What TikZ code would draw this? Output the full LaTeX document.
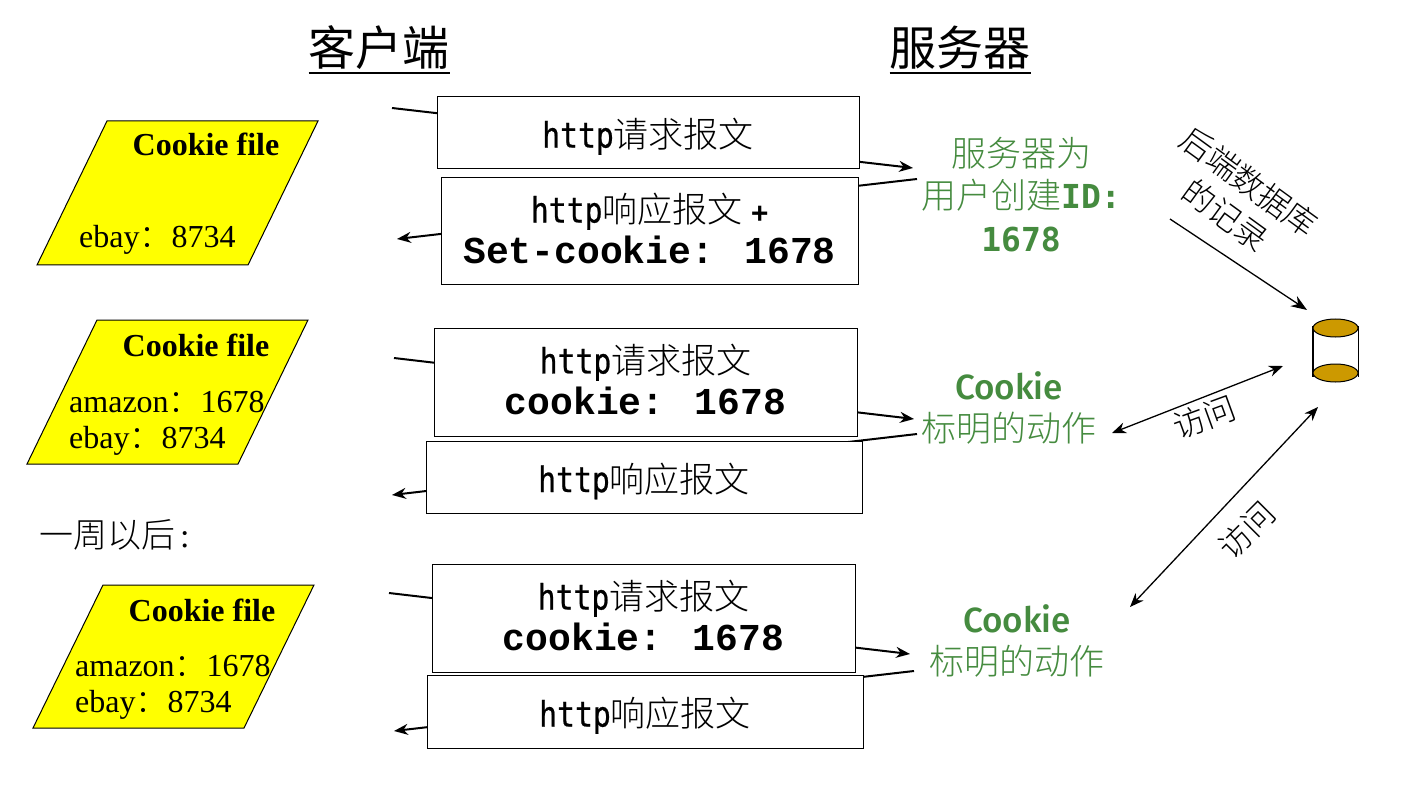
\documentclass[tikz,border=0pt]{standalone}
\usepackage{fontspec}
\usetikzlibrary{arrows.meta,shapes.geometric}
\setmainfont{Liberation Serif}
\newfontfamily\cjklight{Noto Sans CJK SC Light}
\newfontfamily\cjkreg{Noto Sans CJK SC}
\newfontfamily\httpf{DejaVu Sans Mono}
\newfontfamily\httpn{DejaVu Sans Mono}[FakeStretch=0.85,FakeBold=0.6]
\newfontfamily\courb{Liberation Mono}
\newfontfamily\comic{Fira Sans Medium}
\newcommand{\zw}[1]{{\cjklight #1}}
\newcommand{\hp}{{\httpn http}}
\newcommand{\dn}[1]{\raisebox{-4pt}[\height][\depth]{#1}}
\newcommand{\up}[1]{\raisebox{2.5pt}[\height][\depth]{#1}}
\newcommand{\codeline}[1]{{\courb\bfseries\fontsize{38}{43}\selectfont #1}}
\newcommand{\hd}[1]{\setbox0\hbox{#1}\rlap{\rule[-9pt]{\wd0}{2pt}}\box0}
\definecolor{greentxt}{HTML}{458B3F}
\definecolor{cylgold}{HTML}{CC9900}
\definecolor{fileyellow}{HTML}{FFFF00}
\tikzset{
  msgbox/.style={draw=black,fill=white,line width=1pt,inner sep=0pt,align=center,font=\fontsize{35}{43}\selectfont},
  msgline/.style={line width=2pt,-{Stealth[length=14pt,width=11pt]}},
  thinarrow/.style={line width=1.3pt,-{Stealth[length=16pt,width=12pt]}},
  bothwayarrow/.style={line width=1.3pt,{Stealth[length=14pt,width=11pt]}-{Stealth[length=14pt,width=11pt]}},
  filebox/.style={draw=black,fill=fileyellow,line width=1pt},
  filetitle/.style={font=\fontsize{32}{36}\selectfont\bfseries,inner sep=0pt},
  fileline/.style={font=\fontsize{32}{36}\selectfont,inner sep=0pt,anchor=west},
  heading/.style={font=\fontsize{47}{52}\selectfont,inner sep=0pt},
  greenlabel/.style={text=greentxt,align=center,inner sep=0pt,font=\fontsize{35}{42.5}\selectfont},
  blacklabel/.style={inner sep=0pt,font=\fontsize{32}{38}\selectfont},
  cylend/.style={draw=black,fill=cylgold,line width=1pt,ellipse,inner sep=0pt,minimum width=45pt,minimum height=18pt},
}
\begin{document}
\begin{tikzpicture}[x=1pt,y=-1pt]
\useasboundingbox[fill=white] (0,0) rectangle (1405,786);
% connector end points
\coordinate (r1a) at (392,108); \coordinate (r1b) at (913,168);
\coordinate (s1a) at (917,179); \coordinate (s1b) at (397,239);
\coordinate (r2a) at (394,358); \coordinate (r2b) at (914,419);
\coordinate (s2a) at (917,434); \coordinate (s2b) at (392,495);
\coordinate (r3a) at (389,593); \coordinate (r3b) at (910,654);
\coordinate (s3a) at (914,671); \coordinate (s3b) at (394,731);
\draw[msgline] (r1a) -- (r1b);
\draw[msgline] (s1a) -- (s1b);
\draw[msgline] (r2a) -- (r2b);
\draw[msgline] (s2a) -- (s2b);
\draw[msgline] (r3a) -- (r3b);
\draw[msgline] (s3a) -- (s3b);
% titles
\node[heading] (tc) at (379,50) {\hd{{\cjkreg 客户端}}};
\node[heading] (ts) at (960,50) {\hd{{\cjkreg 服务器}}};
% message boxes
\node[msgbox,minimum width=422pt,minimum height=72pt] (m1) at (648,132.5) {\dn{\hp\zw{请求报文}}};
\node[msgbox,minimum width=417pt,minimum height=107pt] (m2) at (649.5,231) {\up{\hp\zw{响应报文} {\httpf\bfseries\fontsize{28}{43}\selectfont +}}\\[-2pt]\up{\codeline{Set-cookie: 1678}}};
\node[msgbox,minimum width=423pt,minimum height=108pt] (m3) at (645.5,382) {\up{\hp\zw{请求报文}}\\[-2pt]\up{\codeline{cookie: 1678}}};
\node[msgbox,minimum width=436pt,minimum height=72pt] (m4) at (644,477) {\dn{\hp\zw{响应报文}}};
\node[msgbox,minimum width=423pt,minimum height=108pt] (m5) at (643.5,618) {\up{\hp\zw{请求报文}}\\[-2pt]\up{\codeline{cookie: 1678}}};
\node[msgbox,minimum width=436pt,minimum height=73pt] (m6) at (645,711.5) {\dn{\hp\zw{响应报文}}};
% cookie files
\draw[filebox] (107,121) -- (318,121) -- (248,265) -- (37,265) -- cycle;
\node[filetitle] (f1t) at (206,144) {Cookie file};
\node[fileline] (f1b) at (79,240) {ebay\zw{：}8734};
\draw[filebox] (97,320) -- (308,320) -- (238,464) -- (27,464) -- cycle;
\node[filetitle] (f2t) at (196,345) {Cookie file};
\node[fileline] (f2a) at (69,402) {amazon\zw{：}1678};
\node[fileline] (f2b) at (69,441) {ebay\zw{：}8734};
\draw[filebox] (103,585) -- (314,585) -- (244,728) -- (33,728) -- cycle;
\node[filetitle] (f3t) at (202,610) {Cookie file};
\node[fileline] (f3a) at (75,666) {amazon\zw{：}1678};
\node[fileline] (f3b) at (75,705) {ebay\zw{：}8734};
\node[blacklabel,anchor=west,font=\fontsize{34}{38}\selectfont] (week) at (39,535) {\zw{一周以后}\hspace{5pt}:};
% server side labels
\node[greenlabel] (g1) at (1021,194.5) {\zw{服务器为}\\\zw{用户创建}{\httpf\bfseries\fontsize{33}{42}\selectfont ID:}\\{\httpf\bfseries\fontsize{33}{42}\selectfont 1678}};
\node[greenlabel] (g2) at (1009,408) {{\comic Cookie}\\\zw{标明的动作}};
\node[greenlabel] (g3) at (1017,641) {{\comic Cookie}\\\zw{标明的动作}};
% database
\draw[line width=1.2pt] (1313,326) -- (1313,377);
\draw[line width=1.2pt] (1358.5,326) -- (1358.5,377);
\node[cylend] (dbtop) at (1335.5,328) {};
\node[cylend] (dbbot) at (1335.5,373) {};
% database arrows
\coordinate (rec) at (1170,219); \coordinate (recend) at (1307,310);
\draw[thinarrow] (rec) -- (recend);
\coordinate (a1a) at (1112,433); \coordinate (a1b) at (1283,366);
\draw[bothwayarrow] (a1a) -- (a1b);
\coordinate (a2a) at (1130,607); \coordinate (a2b) at (1318,407);
\draw[bothwayarrow] (a2a) -- (a2b);
\node[blacklabel,rotate=-36] (l1) at (1249,182) {\zw{后端数据库}};
\node[blacklabel,rotate=-36] (l2) at (1226,215) {\zw{的记录}};
\node[blacklabel,rotate=20] (l3) at (1204,417) {\zw{访问}};
\node[blacklabel,rotate=45] (l4) at (1247,530) {\zw{访问}};
\end{tikzpicture}
\end{document}
